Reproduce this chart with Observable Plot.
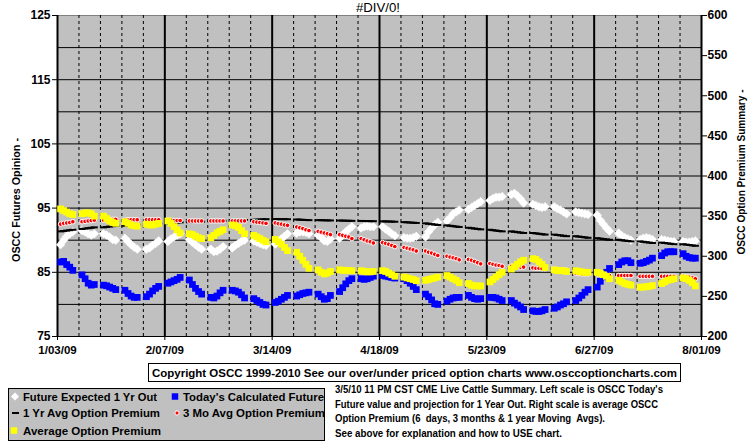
<!DOCTYPE html>
<html><head><meta charset="utf-8">
<script src="https://cdn.jsdelivr.net/npm/d3@7"></script>
<script src="https://cdn.jsdelivr.net/npm/@observablehq/plot@0.6"></script>
<style>
body{margin:0;background:#fff;}
#wrap{position:relative;width:755px;height:446px;}
</style></head><body><div id="wrap"></div>
<script>
// ---- DATA (5 trading days per week, 30 weeks) ----
const xTickLabels = ["1/03/09","2/07/09","3/14/09","4/18/09","5/23/09","6/27/09","8/01/09"];
const leftTicks = [75,85,95,105,115,125];
const gridLeft = [80,85,90,95,100,105,110,115,120];
const rightTicks = [200,250,300,350,400,450,500,550,600];

// Left scale
const futureExpected1Yr = [
 89.3,90.0,90.6,91.0,91.3, 91.5,91.3,91.0,90.8,91.0, 91.0,90.8,90.5,90.1,90.0, 90.3,89.8,89.3,88.9,88.6,
 88.6,88.8,89.2,89.5,89.9, 89.8,90.2,90.5,90.8,91.0, 90.1,89.7,89.3,88.9,88.6, 88.6,88.2,88.3,88.6,89.0,
 88.8,89.2,89.5,89.8,90.0, 89.9,89.7,89.5,89.3,89.2, 89.4,89.8,90.2,90.6,91.0, 91.1,91.3,91.3,91.2,91.0,
 90.8,90.4,89.9,89.8,90.2, 90.3,90.8,91.3,91.7,92.1, 91.9,92.1,92.2,92.1,92.1, 92.1,91.7,91.4,91.0,90.7,
 90.4,90.3,90.3,90.4,90.6, 90.5,91.3,91.9,92.4,92.8, 93.0,93.5,94.1,94.4,94.7, 94.8,95.1,95.4,95.7,96.0,
 96.2,96.5,96.7,96.7,96.8, 97.1,97.3,96.9,96.4,95.8, 95.6,95.4,95.2,95.1,95.2, 95.2,94.9,94.7,94.4,94.1,
 94.4,94.3,94.2,94.1,94.0, 93.9,93.1,92.5,91.9,91.4, 91.1,90.7,90.4,90.2,90.0, 90.1,90.3,90.4,90.3,90.1,
 90.1,90.0,89.9,89.8,89.8, 89.8,89.7,89.7,89.8,89.9];
const todaysCalculated = [
 86.6,86.7,86.2,85.8,85.3, 84.6,84.0,83.3,83.0,83.1, 83.0,82.9,82.7,82.5,82.3, 82.2,81.7,81.3,81.1,81.1,
 81.2,81.6,82.1,82.5,82.8, 83.3,83.5,83.7,83.9,84.2, 83.8,83.1,82.5,82.0,81.6, 81.1,81.0,81.3,81.8,82.2,
 82.2,82.1,81.9,81.5,81.0, 80.9,80.6,80.3,80.0,79.9, 80.3,80.5,80.8,81.1,81.4, 81.3,81.5,81.7,81.8,81.9,
 81.6,81.2,80.8,80.9,81.4, 82.0,82.6,83.2,83.7,84.0, 84.0,83.9,84.0,84.2,84.4, 84.5,84.4,84.3,84.2,84.1,
 84.0,83.7,83.3,82.8,82.3, 81.6,81.2,80.7,80.1,80.0, 80.5,80.8,81.0,81.1,81.1, 81.4,81.1,80.9,80.8,80.9,
 81.1,81.1,81.0,80.8,80.6, 80.6,80.2,79.9,79.6,79.2, 79.0,78.9,78.9,79.0,79.2, 79.4,79.6,79.9,80.1,80.4,
 80.6,81.0,81.4,81.9,82.3, 82.7,83.6,84.3,85.0,85.6, 86.2,86.6,86.8,86.8,86.5, 86.4,86.5,86.7,86.9,87.2,
 87.6,88.0,88.2,88.2,88.2, 87.9,87.5,87.3,87.2,87.2];
// Right scale
const oneYrAvgPremium = [
 331,331.5,332,332.5,333, 334,334.5,335,335.5,336, 336,336.5,337,337.5,338, 338,338.5,339,339.2,339.5,
 340,340.2,340.5,340.8,341, 341,341.3,341.6,341.9,342.2, 342.4,342.6,342.8,343,343.2, 343.4,343.6,343.8,344,344.2,
 344.4,344.6,344.8,345,345.2, 345.4,345.6,345.8,346,346.2, 346.3,346.3,346.2,346.2,346.1, 345.8,345.6,345.4,345.2,345,
 345,344.9,344.8,344.7,344.6, 344.5,344.4,344.3,344.2,344.1, 344,343.9,343.8,343.8,343.7, 343.5,343.4,343.3,343.2,343,
 342.5,342.3,342,341.8,341.5, 341,340.5,340,339.5,339, 338.5,338,337.5,337,336.5, 335.5,335,334.5,334,333.5,
 333,332.5,332,331.5,331, 331,330.5,330,329.5,329, 329,328.5,328,327.5,327, 327,326.5,326,325.5,325,
 325,324.5,324,323.5,323, 322.5,322,321.5,321,320.5, 320.5,320,319.5,319,318.5, 318.5,318,317.5,317,316.5,
 317,316.5,316,315.5,315, 315,314.5,314,313.5,313];
const threeMoAvgPremium = [
 340,341,341.5,342,343, 343,343.5,344,344.5,345, 345,345,345.5,346,346, 345,345.5,345.5,345.5,345.5,
 345.5,345.5,345.5,345.5,345.5, 345,345,344.5,344.5,344.5, 344,344,344,344,344, 344,344,344,344,344,
 344,344,344,344,344, 343,342.5,342,341.5,341, 341.5,340.5,340,339,338.5, 336.5,335.5,334.5,333,332,
 331,330,329,328,327, 327,326,325,324,322, 322,320.5,319,318,316.5, 317,316,315,313.5,312,
 311,310,309,308,306.5, 306.5,305,304,302.5,301, 300,299,298,297,295.5, 296,295,293.5,292,290.5,
 291,290,289,288.5,287.5, 287.5,287,287,286.5,286.5, 285.5,285,285,284.5,284.5, 284,283.5,283,283,282.5,
 279,278.5,278,278,278, 278,277.5,277,276.5,276, 276,276,276,276,276, 275,275,275,275,275,
 275,275,275,275,275, 275,274.5,274,273,272];
const averagePremium = [
 359,357,355,353,352, 353,354,354,353,350, 350,347,344,342,341, 343,341,339,338,337.5,
 340,339,339,340,341, 344,341,337,333,329, 328,327,325,323,322, 323,326,329,331,333,
 339,338,336,332,328, 326,324,322,320,318, 321,318,315,311,307, 305,300,295,290,285,
 283,280,278,279,281, 283,282.5,282.5,282,282, 282,281,280.5,280.5,281, 282,281,279,277,275,
 274,273,272,271,269.5, 270,271,272,273,274, 276,274,272,270,267, 266,264,263,263,263,
 268,271,274,277,280, 284,287,290,293,295, 297,296,293,290,286, 283,282,282,282,281,
 282,281,280.5,280,280, 280,279,277,275,272, 270,268,266,265,264, 261.5,261.5,262,262.5,263.5,
 266,268,270,271,272, 273,272,270,267,263];

// ---- helpers ----
const parseLbl = s => { const [m,d,y] = s.split("/").map(Number); return new Date(Date.UTC(2000+y, m-1, d)); };
const majorDates = xTickLabels.map(parseLbl);
const DAY = 864e5;
const start = +majorDates[0], end = +majorDates[majorDates.length-1];
const weekDates = [];
for (let t = start + 7*DAY; t < end; t += 7*DAY) if (!majorDates.some(m => +m === t)) weekDates.push(new Date(t));
const tradeDates = [];
for (let k = 0; k < 30; k++) for (let d = 1; d <= 5; d++) tradeDates.push(new Date(start + (7*k + d)*DAY));
// right scale (200..600) mapped onto left scale (75..125)
const toLeft = v => 75 + (v - 200) / 8;
const toRight = v => 200 + (v - 75) * 8;
const mk = (arr, conv) => arr.map((v, i) => ({date: tradeDates[i], v: conv ? conv(v) : v}));

const dash = {draw(ctx){ ctx.rect(-3.5, -1, 7, 2); }};
const FONT = "'Liberation Sans', Arial, sans-serif";

const plot = Plot.plot({
  width: 755, height: 446,
  marginLeft: 57, marginRight: 54, marginTop: 15, marginBottom: 110,
  style: {fontFamily: FONT, fontSize: "12px", fontWeight: "bold", color: "black", background: "white", overflow: "visible"},
  x: {type: "utc", domain: [majorDates[0], majorDates[majorDates.length-1]]},
  y: {domain: [75, 125]},
  marks: [
    Plot.frame({fill: "#C0C0C0", stroke: "#808080"}),
    Plot.ruleY(gridLeft, {stroke: "black", strokeWidth: 1}),
    Plot.ruleX(weekDates, {stroke: "black", strokeWidth: 1, strokeDasharray: "3,3"}),
    Plot.ruleX(majorDates, {stroke: "black", strokeWidth: 2}),
    Plot.ruleY([75], {stroke: "black", strokeWidth: 1}),
    Plot.axisY(leftTicks, {anchor: "left", tickSize: 5, tickPadding: 2, label: null, fontSize: 12, fontWeight: "bold"}),
    Plot.axisY(rightTicks.map(toLeft), {anchor: "right", tickSize: 5, tickPadding: 1, label: null, fontSize: 12, fontWeight: "bold", tickFormat: d => Math.round(toRight(d))}),
    Plot.axisX(majorDates, {tickSize: 4, tickPadding: 5, label: null, fontSize: 11.5, fontWeight: "bold",
      tickFormat: d => xTickLabels[majorDates.findIndex(m => +m === +d)]}),
    Plot.dot(mk(futureExpected1Yr), {x: "date", y: "v", symbol: "diamond2", r: 3.9, fill: "white", stroke: "white", strokeWidth: 0.5}),
    Plot.dot(mk(todaysCalculated), {x: "date", y: "v", symbol: "square", r: 3.8, fill: "#0000FF"}),
    Plot.dot(mk(oneYrAvgPremium, toLeft), {x: "date", y: "v", symbol: dash, r: 3, fill: "black"}),
    Plot.dot(mk(threeMoAvgPremium, toLeft), {x: "date", y: "v", r: 2.3, fill: "#FF0000", stroke: "white", strokeWidth: 1}),
    Plot.dot(mk(averagePremium, toLeft), {x: "date", y: "v", symbol: "square", r: 3.8, fill: "#FFFF00"})
  ]
});
document.getElementById("wrap").appendChild(plot);

// ---- titles, legend, notes ----
const svg = d3.select(plot);
const g = svg.append("g").attr("font-family", FONT).attr("fill", "black");
const txt = (x, y, s, o = {}) => {
  const t = g.append("text").attr("x", x).attr("y", y).text(s)
    .attr("font-size", o.size || 11).attr("font-weight", o.weight || "bold")
    .attr("text-anchor", o.anchor || "start");
  if (o.len) t.attr("textLength", o.len).attr("lengthAdjust", "spacingAndGlyphs");
  if (o.rot) t.attr("transform", `rotate(${o.rot},${x},${y})`);
  return t;
};
txt(378, 12, "#DIV/0!", {size: 12, weight: "normal", anchor: "middle", len: 44});
txt(20, 200, "OSCC Futures Opinion -", {size: 11, anchor: "middle", rot: -90, len: 124});
txt(745, 172, "OSCC Option Premium Summary -", {size: 11, anchor: "middle", rot: -90, len: 165});

// copyright box
g.append("rect").attr("x", 148.5).attr("y", 363.5).attr("width", 532).attr("height", 18).attr("fill", "white").attr("stroke", "black");
txt(152, 376.5, "Copyright OSCC 1999-2010 See our over/under priced option charts www.osccoptioncharts.com", {size: 11.5, len: 525});

// legend
g.append("rect").attr("x", 8.5).attr("y", 388.5).attr("width", 316).attr("height", 52).attr("fill", "#C0C0C0").attr("stroke", "black");
const sym = (type, x, y, size, fill, stroke, sw) => g.append("path")
  .attr("d", d3.symbol().type(type).size(size)()).attr("transform", `translate(${x},${y})`)
  .attr("fill", fill).attr("stroke", stroke || "none").attr("stroke-width", sw || 0);
sym(d3.symbolDiamond2, 15, 396.5, 40, "white");
sym(d3.symbolSquare, 175, 396.5, 42, "#0000FF");
sym(dash, 15.5, 413, 30, "black");
sym(d3.symbolCircle, 177, 413, 14, "#FF0000", "white", 1);
sym(d3.symbolSquare, 14, 430.5, 42, "#FFFF00");
txt(23, 400.5, "Future Expected 1 Yr Out", {len: 134});
txt(183, 400.5, "Today's Calculated Future", {len: 141});
txt(23, 417, "1 Yr Avg Option Premium", {len: 137});
txt(183, 417, "3 Mo Avg Option Premium", {len: 142});
txt(23, 434.5, "Average Option Premium", {len: 138});

// notes
txt(335, 393, "3/5/10 11 PM CST CME Live Cattle Summary. Left scale is OSCC Today's", {size: 10.5, len: 328});
txt(335, 407.5, "Future value and projection for 1 Year Out. Right scale is average OSCC", {size: 10.5, len: 323});
txt(335, 422, "Option Premium (6  days, 3 months & 1 year Moving  Avgs).", {size: 10.5, len: 270});
txt(335, 436.5, "See above for explanation and how to USE chart.", {size: 10.5, len: 227});
</script></body></html>
